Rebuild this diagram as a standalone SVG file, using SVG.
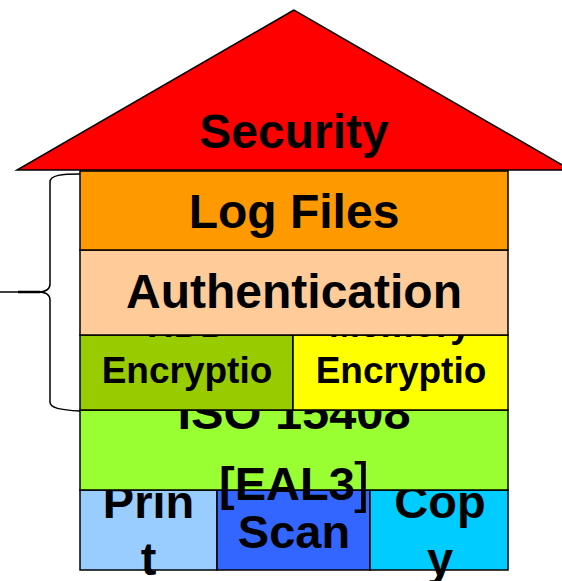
<svg xmlns="http://www.w3.org/2000/svg" width="562" height="581" viewBox="0 0 562 581">
  <style>
    .box { stroke: #000; stroke-width: 1.5; }
    .t { font-family: "Liberation Sans", Arial, sans-serif; font-weight: bold; fill: #000; text-anchor: middle; }
    .big { font-size: 48px; }
    .mid { font-size: 47px; }
    .sm { font-size: 37px; }
  </style>
  <rect width="562" height="581" fill="#fff"/>

  <!-- bottom row -->
  <g id="print">
    <rect class="box" x="80" y="490" width="137" height="80" fill="#99CCFF"/>
    <text class="t mid" x="148.5" y="518">Prin</text>
    <text class="t mid" x="148.5" y="575">t</text>
  </g>
  <g id="scan">
    <rect class="box" x="217" y="490" width="153" height="80" fill="#3366FF"/>
    <text class="t mid" x="294" y="548">Scan</text>
  </g>
  <g id="copy">
    <rect class="box" x="370" y="490" width="138" height="80" fill="#00CCFF"/>
    <text class="t mid" x="440" y="518">Cop</text>
    <text class="t mid" x="440" y="575">y</text>
  </g>

  <!-- ISO layer -->
  <g id="iso">
    <rect class="box" x="80" y="410" width="428" height="80" fill="#99FF33"/>
    <text class="t mid" x="294" y="429" textLength="233" lengthAdjust="spacingAndGlyphs">ISO 15408</text>
    <text class="t mid" x="287" y="500">[EAL3</text>
    <text class="t" x="362" y="501" style="font-size:56px;font-weight:normal">]</text>
  </g>

  <!-- encryption layer -->
  <g id="hdd">
    <rect class="box" x="80" y="335" width="213" height="75" fill="#99CC00"/>
    <text class="t sm" x="187" y="337">HDD</text>
    <text class="t sm" x="187" y="383">Encryptio</text>
  </g>
  <g id="memory">
    <rect class="box" x="293" y="335" width="215" height="75" fill="#FFFF00"/>
    <text class="t sm" x="400" y="337">Memory</text>
    <text class="t sm" x="401" y="383">Encryptio</text>
  </g>

  <g id="authentication">
    <rect class="box" x="80" y="250" width="428" height="85" fill="#FFCC99"/>
    <text class="t big" x="294" y="308">Authentication</text>
  </g>

  <g id="logfiles">
    <rect class="box" x="80" y="171" width="428" height="79" fill="#FF9900"/>
    <text class="t big" x="294" y="228">Log Files</text>
  </g>

  <g id="security">
    <polygon class="box" points="294,10 17,170 571,170" fill="#FF0000"/>
    <text class="t big" x="294" y="148">Security</text>
  </g>

  <g id="brace" fill="none" stroke="#000" stroke-width="1.5">
    <path d="M80 174 C62 174 50 175 50 182 L50 284 C50 290 46 292 38 292 L0 292 M38 292 C46 292 50 294 50 300 L50 402 C50 408 60 410 80 411"/>
    <path d="M18 292 L40 292" stroke-width="2.5"/>
  </g>
</svg>
